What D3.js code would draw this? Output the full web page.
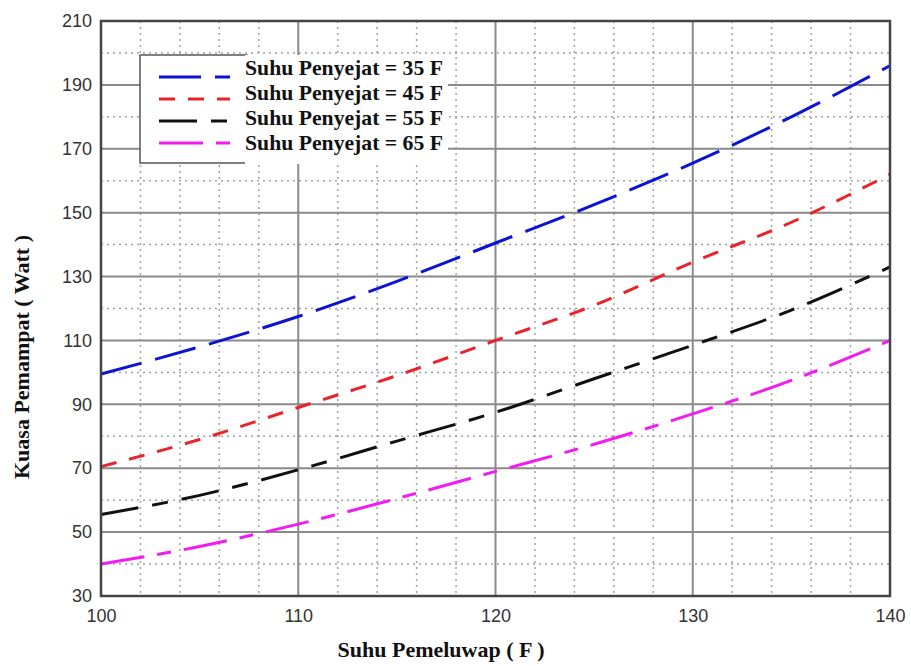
<!DOCTYPE html>
<html>
<head>
<meta charset="utf-8">
<script src="https://cdn.jsdelivr.net/npm/d3@7"></script>
<style>
  body { margin: 0; background: #fff; }
  .tick text { font-family: Arial, "Liberation Sans", sans-serif; fill: #333; }
  .lbl { font-family: "Liberation Serif", "Times New Roman", serif; font-weight: bold; fill: #111; }
</style>
</head>
<body>
<script>
// condenser temperature (x) and compressor power for each evaporator temp
var suhuPemeluwap = [100, 105, 110, 115, 120, 125, 130, 135, 140]
var kuasa35 = [99.5, 108, 117.5, 128.5, 140.5, 152.5, 165.5, 180, 196]
var kuasa45 = [70.5, 79, 89, 99, 110, 121, 134.5, 147, 162]
var kuasa55 = [55.5, 61.5, 69.5, 78.5, 87.5, 98, 108.5, 119.5, 133]
var kuasa65 = [40, 45.5, 52.5, 60.5, 69, 77.5, 87, 97.5, 110]
var legendText = ["Suhu Penyejat = 35 F", "Suhu Penyejat = 45 F", "Suhu Penyejat = 55 F", "Suhu Penyejat = 65 F"]
var xTicks = [100, 110, 120, 130, 140]
var yTicks = [30, 50, 70, 90, 110, 130, 150, 170, 190, 210]

var series = [
  {name: legendText[0], values: kuasa35, color: "#0a14d2", dash: "42,14"},
  {name: legendText[1], values: kuasa45, color: "#e8242a", dash: "16,13"},
  {name: legendText[2], values: kuasa55, color: "#111111", dash: "38,14,16,14"},
  {name: legendText[3], values: kuasa65, color: "#f21cf0", dash: "44,13,14,13"}
]

var margin = {top: 21, right: 21, bottom: 70, left: 101}
var width = 911 - margin.left - margin.right
var height = 666 - margin.top - margin.bottom

var svg = d3.select("body").append("svg")
  .attr("width", 911)
  .attr("height", 666)
var g = svg.append("g")
  .attr("transform", "translate(" + margin.left + "," + margin.top + ")")

var x = d3.scaleLinear().domain([100, 140]).range([0, width])
var y = d3.scaleLinear().domain([30, 210]).range([height, 0])

// minor dotted grid
g.selectAll(".minorx")
  .data(d3.range(102, 140, 2).filter(function(d) { return d % 10 != 0 }))
  .enter().append("line")
  .attr("x1", x).attr("x2", x)
  .attr("y1", 0).attr("y2", height)
  .attr("stroke", "#a0a0a0").attr("stroke-width", 1.5)
  .attr("stroke-dasharray", "2,4")
g.selectAll(".minory")
  .data(d3.range(40, 210, 20))
  .enter().append("line")
  .attr("y1", y).attr("y2", y)
  .attr("x1", 0).attr("x2", width)
  .attr("stroke", "#a0a0a0").attr("stroke-width", 1.5)
  .attr("stroke-dasharray", "2,4")

// major grid
g.selectAll(".majorx")
  .data(xTicks.slice(1, -1))
  .enter().append("line")
  .attr("x1", x).attr("x2", x)
  .attr("y1", 0).attr("y2", height)
  .attr("stroke", "#8a8a8a").attr("stroke-width", 2)
g.selectAll(".majory")
  .data(yTicks.slice(1, -1))
  .enter().append("line")
  .attr("y1", y).attr("y2", y)
  .attr("x1", 0).attr("x2", width)
  .attr("stroke", "#8a8a8a").attr("stroke-width", 2)

// axes (labels only)
var xAxis = g.append("g")
  .attr("transform", "translate(0," + height + ")")
  .call(d3.axisBottom(x).tickValues(xTicks).tickSize(0).tickPadding(13))
xAxis.select(".domain").remove()
xAxis.selectAll("text").style("font-size", "18px")

var yAxis = g.append("g")
  .call(d3.axisLeft(y).tickValues(yTicks).tickSize(0).tickPadding(9))
yAxis.select(".domain").remove()
yAxis.selectAll("text").style("font-size", "18px")

// lines
var line = d3.line()
  .curve(d3.curveMonotoneX)
  .x(function(d, i) { return x(suhuPemeluwap[i]) })
  .y(function(d) { return y(d) })

g.selectAll(".series")
  .data(series)
  .enter().append("path")
  .attr("fill", "none")
  .attr("stroke", function(d) { return d.color })
  .attr("stroke-width", 3)
  .attr("stroke-dasharray", function(d) { return d.dash })
  .attr("d", function(d) { return line(d.values) })

// plot frame
g.append("rect")
  .attr("width", width).attr("height", height)
  .attr("fill", "none").attr("stroke", "#444").attr("stroke-width", 2.5)

// legend
var legend = svg.append("g")
legend.append("rect")
  .attr("x", 140).attr("y", 55).attr("width", 107).attr("height", 108)
  .attr("fill", "#fff").attr("stroke", "#555").attr("stroke-width", 1.5)
legend.append("rect")
  .attr("x", 245).attr("y", 55).attr("width", 203).attr("height", 109)
  .attr("fill", "#fff")

var item = legend.selectAll(".item")
  .data(series)
  .enter().append("g")
  .attr("transform", function(d, i) { return "translate(0," + i * 22 + ")" })
item.append("line")
  .attr("x1", 159).attr("x2", 230)
  .attr("y1", 77).attr("y2", 77)
  .attr("stroke", function(d) { return d.color })
  .attr("stroke-width", 3)
  .attr("stroke-dasharray", function(d) { return d.dash })
item.append("text")
  .attr("class", "lbl")
  .attr("x", 245)
  .attr("y", function(d, i) { return 75 + i * 3 })
  .attr("textLength", 198)
  .attr("lengthAdjust", "spacingAndGlyphs")
  .style("font-size", "21px")
  .text(function(d) { return d.name })

// axis titles
svg.append("text")
  .attr("class", "lbl")
  .attr("x", 441).attr("y", 657)
  .attr("text-anchor", "middle")
  .style("font-size", "22px")
  .text("Suhu Pemeluwap ( F )")

svg.append("text")
  .attr("class", "lbl")
  .attr("transform", "translate(29,357) rotate(-90)")
  .attr("text-anchor", "middle")
  .style("font-size", "22px")
  .text("Kuasa Pemampat ( Watt )")
</script>
</body>
</html>
